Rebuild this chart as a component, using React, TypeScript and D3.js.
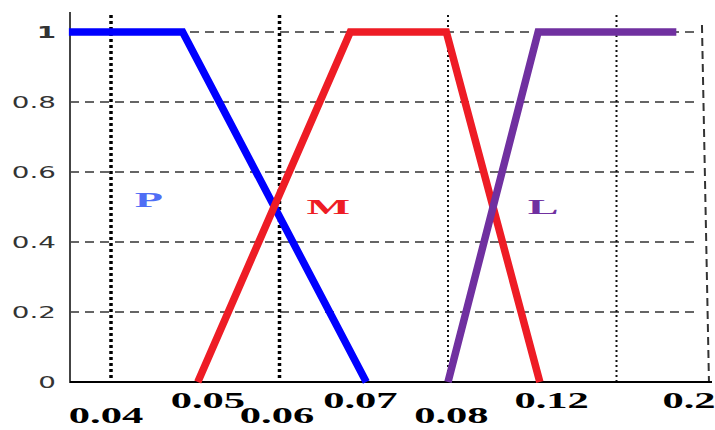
import * as d3 from 'd3';
import React from 'react';

// membership functions (x in data units, y = membership degree)
const termNames = ['P', 'M', 'L'];
const termColors = ['#0000ff', '#ee1c25', '#7030a0'];
const labelColors = ['#4f6ef5', '#ee1c25', '#7030a0'];
const pX = [0.035, 0.0485, 0.0703];
const pY = [1, 1, 0];
const mX = [0.0503, 0.0684, 0.0798, 0.0909];
const mY = [0, 1, 1, 0];
const lX = [0.08, 0.0907, 0.1071];
const lY = [0, 1, 1];
const termLabelX = [0.0445, 0.0658, 0.0913];
const termLabelY = [0.52, 0.5, 0.5];

// axis ticks
const yTicks = [0, 0.2, 0.4, 0.6, 0.8, 1];
const yTickLabels = ['0', '0.2', '0.4', '0.6', '0.8', '1'];
const xTickLabels = ['0.04', '0.05', '0.06', '0.07', '0.08', '0.12', '0.2'];
const xTickAt = [0.0394, 0.0515, 0.0597, 0.0696, 0.0804, 0.0923, 0.1086];
const xTickRow = [1, 0, 1, 0, 1, 0, 0];
const xGridThick = [0.04, 0.06];
const xGridThin = [0.08, 0.1];
const xGridEdge = 0.1105;

const W = 715;
const H = 430;

export default function App() {
  const x = d3.scaleLinear().domain([0.04, 0.08]).range([111, 448]);
  const y = d3.scaleLinear().domain([0, 1]).range([382, 32]);
  const left = 70;
  const right = 697;

  const series = [
    pX.map((v, i) => [v, pY[i]]),
    mX.map((v, i) => [v, mY[i]]),
    lX.map((v, i) => [v, lY[i]]),
  ];
  const line = d3.line<number[]>().x(d => x(d[0])).y(d => y(d[1]));

  const sx = 1.85;

  return (
    <svg width={W} height={H} style={{ position: 'fixed', left: 0, top: 0, background: '#fff' }}>
      {/* horizontal dashed grid */}
      {yTicks.filter(t => t > 0).map(t => (
        <line key={'h' + t} x1={left} x2={right} y1={y(t)} y2={y(t)}
          stroke="#333" strokeWidth={1.5} strokeDasharray="9,6" />
      ))}
      {/* vertical dotted grid */}
      {xGridThick.map(g => (
        <line key={'vt' + g} x1={x(g)} x2={x(g)} y1={15} y2={382}
          stroke="#000" strokeWidth={3.5} strokeDasharray="3,3" />
      ))}
      {xGridThin.map(g => (
        <line key={'vn' + g} x1={x(g)} x2={x(g)} y1={15} y2={382}
          stroke="#111" strokeWidth={2} strokeDasharray="2,3" />
      ))}
      <line x1={x(xGridEdge) - 3} x2={x(xGridEdge) + 4} y1={25} y2={382}
        stroke="#333" strokeWidth={2} strokeDasharray="8,5" />

      {/* axes */}
      <line x1={left} x2={left} y1={12} y2={383} stroke="#444" strokeWidth={2} />
      <line x1={left} x2={712} y1={382} y2={382} stroke="#000" strokeWidth={2} />

      {/* curves */}
      {series.map((s, i) => (
        <path key={termNames[i]} d={line(s) || ''} fill="none"
          stroke={termColors[i]} strokeWidth={7.5} strokeLinejoin="miter" />
      ))}

      {/* term labels */}
      {termNames.map((n, i) => (
        <text key={'t' + n} transform={`translate(${x(termLabelX[i])},${y(termLabelY[i]) + 7}) scale(2.2,1)`}
          textAnchor="middle" fontFamily="Liberation Serif" fontWeight="bold" fontSize={21}
          fill={labelColors[i]}>{n}</text>
      ))}

      {/* y tick labels */}
      {yTicks.map((t, i) => (
        <text key={'y' + t} transform={`translate(56,${y(t) + 5.5}) scale(${sx},1)`}
          textAnchor="end" fontFamily="DejaVu Sans" fontSize={15}
          fontWeight={t === 1 ? 'bold' : 'normal'} fill="#333">{yTickLabels[i]}</text>
      ))}

      {/* x tick labels */}
      {xTickLabels.map((l, i) => (
        <text key={'x' + l} transform={`translate(${x(xTickAt[i])},${xTickRow[i] ? 423 : 408}) scale(${sx},1)`}
          textAnchor="middle" fontFamily="Liberation Serif" fontWeight="bold" fontSize={23}
          fill="#000">{l}</text>
      ))}
    </svg>
  );
}
